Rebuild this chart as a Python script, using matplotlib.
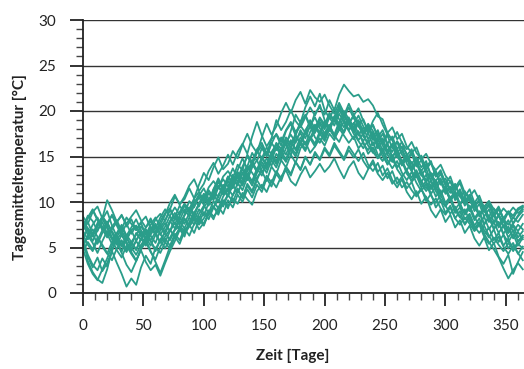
import numpy as np
import matplotlib
matplotlib.use("Agg")
import matplotlib.pyplot as plt
from matplotlib.ticker import MultipleLocator

# Day of year for each sample (every 4 days)
days = list(range(0, 365, 4))

s_a = [7.2, 8.5, 7.9, 6.8, 8.1, 9.0, 7.4, 6.2, 7.0, 8.3,
       7.6, 6.9, 7.8, 8.4, 7.1, 6.6, 7.9, 8.8, 9.3, 8.1,
       8.9, 9.8, 9.2, 10.4, 11.1, 10.2, 11.6, 12.3, 11.5, 12.8,
       13.4, 12.6, 14.1, 13.5, 15.2, 14.4, 15.8, 16.5, 15.3, 16.9,
       17.4, 16.2, 17.8, 18.6, 17.3, 18.9, 19.5, 18.2, 19.8, 20.4,
       19.6, 21.2, 20.1, 21.8, 22.9, 22.2, 21.6, 21.8, 21.0, 21.3,
       20.6, 19.4, 19.1, 17.6, 18.2, 16.9, 17.5, 16.1, 15.4, 16.0,
       14.6, 13.9, 14.5, 12.8, 13.3, 12.1, 11.4, 12.0, 10.6, 11.2,
       10.1, 9.4, 10.3, 8.9, 9.6, 8.4, 9.2, 8.1, 7.5, 8.3,
       7.8, 8.6]
s_b = [5.8, 4.2, 3.1, 2.5, 3.8, 2.9, 4.6, 3.3, 2.1, 0.7,
       1.6, 0.9, 2.8, 4.1, 3.2, 5.0, 4.4, 5.6, 4.8, 6.2,
       5.4, 6.8, 7.5, 6.6, 8.1, 7.4, 8.8, 9.5, 8.6, 10.1,
       9.3, 10.8, 11.5, 10.4, 12.0, 11.2, 12.7, 13.4, 12.3, 13.9,
       13.1, 14.6, 13.8, 15.2, 14.3, 15.9, 16.6, 15.4, 16.1, 17.0,
       16.2, 17.5, 16.8, 18.1, 17.3, 16.5, 17.2, 15.9, 16.6, 15.3,
       16.0, 14.8, 15.5, 14.1, 14.9, 13.6, 12.8, 13.5, 12.2, 12.9,
       11.6, 12.3, 10.9, 11.7, 10.2, 9.5, 10.3, 8.8, 9.4, 8.1,
       8.7, 7.4, 8.2, 6.9, 6.1, 7.0, 5.6, 6.4, 4.9, 5.5,
       4.3, 5.1]
s_c = [6.2, 3.5, 2.3, 1.5, 1.1, 2.6, 4.8, 5.9, 4.5, 6.1,
       5.2, 6.6, 5.8, 7.0, 6.3, 5.5, 6.9, 7.7, 6.8, 8.2,
       7.5, 8.6, 9.3, 8.4, 9.9, 10.6, 9.8, 11.2, 10.5, 11.9,
       11.1, 12.5, 11.8, 13.2, 12.4, 13.8, 14.6, 13.3, 14.0, 15.1,
       14.2, 15.6, 16.4, 15.1, 16.8, 17.6, 16.3, 17.0, 18.2, 17.4,
       18.7, 17.8, 19.2, 18.4, 17.6, 18.9, 17.9, 16.8, 17.5, 16.2,
       15.4, 16.3, 15.0, 14.2, 15.1, 13.8, 14.5, 13.1, 12.4, 13.2,
       12.0, 11.2, 11.9, 10.6, 11.3, 9.9, 10.6, 9.2, 9.9, 8.6,
       9.3, 8.0, 8.8, 7.5, 8.3, 7.1, 7.8, 6.5, 7.3, 6.0,
       6.7, 5.9]
s_d = [8.4, 7.6, 8.9, 9.5, 8.2, 10.2, 9.1, 7.8, 8.6, 7.3,
       8.1, 6.9, 7.7, 6.4, 7.5, 8.3, 7.2, 8.0, 9.1, 8.3,
       9.6, 8.8, 10.1, 9.4, 10.7, 11.5, 10.3, 11.0, 12.2, 11.4,
       12.8, 12.1, 13.5, 14.8, 13.6, 14.2, 15.6, 14.8, 16.0, 15.2,
       16.5, 15.8, 17.1, 16.3, 17.5, 18.4, 17.6, 19.0, 18.1, 19.3,
       18.5, 19.8, 18.9, 20.6, 19.4, 18.6, 19.5, 18.3, 17.5, 18.4,
       17.2, 17.9, 16.5, 17.3, 15.9, 16.6, 15.2, 14.5, 15.3, 13.9,
       14.6, 13.2, 12.5, 13.3, 11.9, 12.6, 11.3, 10.5, 11.4, 10.0,
       10.7, 9.5, 10.2, 9.0, 9.8, 8.6, 9.4, 8.2, 9.0, 8.5,
       9.3, 9.6]
s_e = [6.9, 7.8, 6.5, 5.4, 6.6, 7.4, 6.1, 5.3, 6.4, 5.5,
       4.6, 5.8, 6.7, 5.9, 7.2, 6.4, 5.6, 6.8, 7.9, 7.1,
       8.3, 7.6, 8.8, 8.0, 9.2, 8.5, 9.9, 10.8, 10.0, 11.3,
       10.6, 11.9, 12.7, 11.8, 13.1, 12.3, 13.7, 12.9, 14.3, 15.0,
       14.2, 15.5, 14.7, 16.0, 15.3, 16.7, 15.8, 17.2, 16.4, 17.8,
       17.0, 18.3, 17.4, 18.8, 19.6, 18.5, 17.7, 18.6, 17.2, 16.5,
       17.3, 15.9, 16.7, 15.2, 14.4, 15.3, 14.0, 14.8, 13.4, 12.7,
       13.5, 12.1, 11.4, 12.3, 10.8, 11.5, 10.1, 10.9, 9.5, 8.8,
       9.6, 8.3, 7.5, 8.4, 7.0, 7.8, 6.6, 7.4, 6.1, 6.9,
       5.7, 6.3]
s_f = [5.1, 6.3, 5.5, 4.4, 5.7, 6.8, 5.9, 4.7, 3.9, 5.2,
       4.3, 3.5, 4.8, 5.6, 4.5, 3.7, 5.1, 6.0, 5.2, 6.5,
       5.8, 7.1, 6.3, 7.6, 8.4, 7.5, 8.9, 8.1, 9.5, 8.7,
       10.2, 9.4, 10.8, 10.0, 11.4, 10.5, 11.9, 11.1, 12.6, 11.7,
       13.1, 12.3, 13.8, 12.9, 14.4, 13.6, 15.0, 14.1, 15.5, 14.7,
       16.0, 15.2, 16.5, 15.6, 14.8, 16.1, 15.3, 14.5, 15.4, 14.1,
       13.4, 14.3, 12.9, 13.7, 12.4, 11.6, 12.5, 11.1, 10.3, 11.2,
       9.8, 10.6, 9.1, 8.3, 9.2, 7.8, 8.6, 7.2, 8.0, 6.6,
       7.4, 6.0, 5.2, 6.1, 4.7, 5.5, 4.0, 3.2, 4.2, 2.1,
       3.4, 4.5]
s_g = [7.6, 6.4, 7.5, 8.3, 7.0, 6.1, 7.3, 8.0, 6.8, 5.9,
       6.9, 5.7, 4.9, 5.9, 4.6, 3.4, 2.2, 3.6, 5.1, 6.3,
       7.0, 6.2, 7.8, 8.9, 8.1, 9.4, 10.2, 9.3, 10.8, 11.6,
       10.7, 12.1, 13.0, 12.1, 13.5, 14.4, 13.5, 15.0, 14.1, 15.5,
       16.3, 15.4, 16.8, 15.9, 17.3, 16.5, 17.9, 18.7, 17.8, 19.1,
       18.3, 19.6, 18.8, 20.1, 19.3, 20.4, 19.2, 18.5, 19.1, 17.8,
       18.5, 17.1, 17.9, 16.4, 17.2, 15.8, 16.6, 15.1, 15.8, 14.4,
       15.1, 13.6, 14.3, 12.8, 13.5, 12.0, 12.8, 11.3, 12.1, 10.6,
       11.4, 9.9, 10.7, 9.3, 10.1, 8.7, 9.5, 8.1, 8.9, 7.6,
       8.4, 9.0]
s_h = [4.5, 5.6, 4.8, 6.1, 5.3, 4.4, 3.6, 4.9, 5.8, 4.7,
       5.6, 4.8, 6.0, 5.2, 6.4, 7.3, 6.5, 5.6, 6.8, 7.7,
       6.9, 8.1, 7.3, 8.5, 7.7, 8.9, 8.1, 9.4, 10.3, 9.5,
       10.8, 10.0, 11.3, 10.5, 11.8, 11.0, 12.4, 11.5, 12.9, 12.1,
       13.4, 12.6, 13.9, 13.1, 14.4, 13.5, 14.9, 14.1, 15.3, 14.6,
       15.8, 15.0, 16.2, 15.4, 14.6, 15.7, 14.9, 15.8, 14.5, 13.7,
       14.6, 13.3, 14.0, 12.6, 13.4, 12.0, 12.8, 11.5, 12.2, 10.8,
       11.5, 10.1, 10.9, 9.4, 10.2, 8.8, 9.6, 8.2, 9.0, 7.5,
       8.3, 6.9, 7.7, 6.4, 7.2, 5.8, 6.6, 5.2, 6.0, 4.6,
       5.4, 4.9]
s_i = [7.9, 6.8, 5.7, 6.9, 7.8, 6.5, 5.4, 6.6, 7.5, 6.3,
       7.2, 8.1, 6.9, 5.8, 6.7, 7.6, 6.4, 7.3, 8.5, 9.4,
       8.6, 9.8, 9.0, 10.3, 9.5, 10.9, 10.0, 11.4, 12.3, 11.4,
       12.8, 11.9, 13.3, 12.5, 13.9, 15.4, 14.5, 15.9, 15.1, 16.5,
       15.7, 17.1, 16.2, 17.8, 19.6, 18.7, 20.4, 21.6, 20.5, 21.9,
       20.1, 19.2, 20.3, 19.1, 18.2, 19.3, 18.0, 18.8, 17.4, 18.2,
       16.8, 17.6, 16.2, 15.4, 16.3, 14.9, 15.7, 14.2, 13.4, 14.3,
       12.9, 13.7, 12.2, 11.4, 12.3, 10.9, 11.7, 10.2, 11.0, 9.6,
       10.4, 9.0, 9.8, 8.4, 9.2, 7.8, 8.6, 7.2, 8.0, 6.7,
       7.5, 7.0]
s_j = [5.5, 4.0, 2.8, 3.9, 2.4, 3.3, 4.6, 6.0, 5.1, 6.4,
       5.6, 4.7, 5.9, 6.8, 5.7, 4.6, 5.8, 4.9, 6.1, 7.0,
       7.9, 7.1, 8.3, 7.5, 8.7, 9.6, 8.8, 10.1, 9.3, 10.6,
       11.5, 10.7, 12.1, 11.3, 12.7, 11.8, 13.2, 14.1, 13.2, 14.6,
       13.8, 15.2, 14.4, 15.8, 15.0, 16.4, 15.6, 17.0, 16.1, 17.5,
       16.7, 18.0, 17.2, 18.6, 17.7, 19.0, 18.1, 17.3, 18.2, 16.9,
       17.7, 16.3, 15.5, 16.3, 14.9, 15.7, 14.3, 13.5, 14.4, 13.0,
       12.2, 13.0, 11.6, 12.4, 10.9, 11.7, 10.3, 11.1, 9.7, 10.5,
       9.0, 9.8, 8.4, 9.2, 7.8, 8.6, 7.2, 8.0, 6.6, 7.4,
       6.1, 6.8]
s_k = [7.0, 8.2, 9.1, 8.0, 6.9, 7.8, 6.6, 5.5, 4.4, 3.1,
       2.3, 3.5, 4.9, 6.2, 7.3, 6.5, 7.6, 6.7, 7.9, 8.8,
       8.0, 9.2, 8.4, 9.6, 10.5, 9.7, 11.0, 10.2, 11.6, 12.5,
       11.7, 13.0, 12.2, 13.6, 12.8, 14.2, 13.3, 14.7, 15.5, 14.6,
       16.0, 15.1, 16.6, 17.4, 16.5, 17.9, 17.0, 18.4, 17.6, 18.8,
       18.0, 19.3, 18.4, 19.7, 18.8, 17.9, 18.7, 17.5, 16.7, 17.6,
       16.2, 17.0, 15.6, 16.4, 15.0, 15.8, 14.4, 15.2, 13.8, 14.6,
       13.2, 12.4, 13.2, 11.8, 12.6, 11.2, 10.4, 11.2, 9.8, 10.6,
       9.2, 10.0, 8.6, 9.4, 8.0, 8.8, 7.4, 8.2, 6.8, 7.7,
       8.5, 9.4]
s_l = [6.0, 7.1, 6.2, 7.3, 8.4, 7.5, 8.6, 7.7, 6.6, 7.6,
       6.5, 7.4, 6.3, 7.2, 8.2, 7.1, 8.3, 9.2, 8.4, 7.6,
       8.5, 9.6, 8.8, 9.9, 10.8, 10.0, 11.3, 10.5, 11.8, 11.0,
       12.3, 11.5, 12.9, 12.1, 13.4, 14.2, 13.4, 14.8, 14.0, 15.3,
       14.5, 16.0, 15.2, 16.6, 15.8, 17.1, 16.3, 17.7, 18.5, 17.6,
       18.9, 18.1, 19.4, 18.6, 20.0, 19.1, 18.2, 19.0, 17.7, 18.5,
       17.1, 16.3, 17.0, 15.6, 16.4, 15.0, 14.2, 15.0, 13.6, 14.4,
       13.0, 12.2, 13.0, 11.6, 10.8, 11.6, 10.2, 11.0, 9.6, 8.8,
       9.6, 8.2, 9.0, 7.6, 8.4, 7.0, 7.8, 6.4, 5.6, 6.5,
       5.2, 6.1]
s_m = [6.8, 5.9, 6.4, 7.7, 8.2, 7.1, 6.0, 6.3, 5.2, 5.8,
       6.9, 7.4, 6.2, 5.5, 6.8, 8.1, 8.7, 7.9, 9.2, 10.6,
       9.8, 10.3, 11.5, 10.4, 11.9, 13.2, 12.4, 13.8, 14.9, 13.6,
       14.2, 15.6, 14.8, 16.3, 17.5, 16.2, 15.4, 17.1, 18.6, 17.4,
       18.3, 19.8, 20.9, 19.8, 21.2, 22.1, 20.8, 22.3, 21.5, 21.0,
       21.8, 20.6, 19.7, 20.9, 19.8, 18.6, 19.5, 20.3, 18.9, 17.8,
       18.4, 17.2, 16.5, 17.6, 16.8, 15.4, 16.1, 15.3, 14.2, 14.9,
       13.8, 14.5, 12.9, 13.4, 12.1, 11.5, 12.3, 10.8, 11.2, 10.1,
       10.8, 9.6, 10.2, 9.1, 8.4, 9.3, 8.6, 7.8, 8.9, 8.2,
       9.1, 9.5]
s_n = [5.4, 6.1, 7.0, 6.2, 5.1, 4.3, 5.6, 6.5, 7.3, 6.1,
       5.0, 4.2, 5.3, 6.0, 5.7, 4.8, 5.9, 6.6, 5.8, 6.9,
       7.4, 6.8, 7.6, 8.3, 7.5, 8.2, 9.1, 8.4, 9.0, 10.2,
       9.6, 10.4, 9.8, 11.0, 10.3, 9.7, 11.2, 11.9, 11.1, 12.4,
       11.6, 12.8, 13.5, 12.3, 11.8, 13.0, 13.9, 12.7, 13.4, 14.2,
       13.3, 13.9, 14.8, 13.6, 12.6, 13.8, 14.5, 13.2, 12.5, 13.6,
       14.3, 13.1, 12.4, 13.2, 12.0, 12.7, 11.6, 12.2, 11.3, 10.6,
       11.4, 10.5, 9.7, 10.4, 9.3, 8.6, 9.4, 8.2, 7.5, 8.3,
       7.6, 6.8, 7.5, 6.2, 5.4, 6.1, 5.3, 4.6, 5.5, 4.8,
       5.6, 6.3]
s_o = [7.4, 8.3, 9.2, 8.1, 7.3, 6.4, 7.0, 7.8, 8.5, 7.6,
       8.4, 9.1, 8.0, 7.2, 7.9, 6.8, 7.5, 8.6, 9.9, 10.8,
       9.7, 10.6, 11.8, 12.5, 11.2, 12.0, 13.4, 14.3, 13.1, 14.0,
       15.2, 14.1, 15.5, 16.4, 15.3, 17.2, 18.8, 17.3, 16.1, 17.0,
       19.0, 17.9, 18.8, 20.1, 18.9, 18.2, 19.3, 20.4, 19.5, 20.7,
       19.0, 18.2, 19.4, 20.3, 19.1, 17.9, 18.6, 19.5, 18.3, 17.6,
       18.9, 19.8, 18.5, 17.4, 16.8, 17.7, 16.5, 15.8, 16.6, 15.4,
       14.7, 15.3, 14.2, 13.5, 14.1, 12.9, 12.2, 11.6, 12.4, 11.0,
       10.6, 11.3, 10.2, 9.5, 10.1, 9.2, 8.5, 9.3, 8.7, 9.4,
       8.8, 9.2]
s_p = [6.4, 5.3, 4.6, 5.8, 6.9, 7.7, 8.5, 7.4, 6.3, 5.6,
       4.8, 5.7, 6.8, 6.1, 5.2, 6.4, 7.2, 6.5, 7.8, 8.4,
       7.6, 8.5, 9.4, 8.7, 9.8, 10.5, 9.6, 10.9, 11.7, 10.8,
       11.5, 12.6, 11.9, 13.1, 14.0, 13.2, 12.4, 13.7, 14.8, 14.0,
       15.3, 14.6, 15.9, 16.8, 15.7, 16.5, 17.6, 16.9, 17.7, 18.6,
       17.5, 18.2, 17.1, 17.9, 18.8, 17.8, 16.9, 17.8, 16.4, 15.7,
       16.6, 15.2, 14.5, 15.6, 14.7, 13.8, 14.6, 13.4, 12.7, 13.5,
       12.3, 11.5, 12.4, 11.2, 10.3, 9.6, 10.4, 9.1, 8.3, 9.2,
       7.9, 7.1, 7.8, 6.5, 5.6, 4.8, 3.9, 2.7, 1.6, 2.5,
       3.3, 2.6]
s_q = [4.8, 3.2, 2.1, 1.4, 2.6, 3.8, 5.2, 6.3, 5.4, 4.5,
       5.6, 6.4, 7.3, 6.6, 5.8, 6.7, 5.5, 6.2, 7.0, 6.1,
       7.2, 6.5, 7.3, 8.1, 7.0, 7.7, 8.6, 9.5, 8.8, 9.9,
       10.8, 11.9, 11.0, 12.2, 13.0, 12.1, 13.5, 14.4, 13.6, 15.1,
       16.0, 15.2, 14.5, 16.1, 17.2, 16.4, 17.5, 18.3, 17.1, 16.5,
       17.6, 18.5, 17.3, 16.6, 17.8, 18.7, 17.5, 16.7, 15.9, 16.8,
       15.5, 14.8, 15.9, 14.6, 13.7, 14.5, 13.2, 12.4, 13.3, 12.1,
       11.2, 12.0, 10.7, 9.9, 10.8, 9.6, 8.7, 9.5, 8.4, 7.6,
       8.5, 7.3, 6.6, 7.4, 6.3, 5.4, 6.2, 5.1, 4.3, 5.2,
       4.4, 3.6]
s_r = [8.0, 7.1, 6.3, 7.5, 8.4, 7.7, 6.8, 5.9, 6.6, 5.4,
       4.5, 3.6, 4.7, 3.4, 2.5, 3.1, 1.9, 3.3, 4.6, 5.7,
       6.9, 8.2, 7.4, 8.8, 9.7, 10.9, 9.8, 11.4, 12.6, 11.5,
       12.4, 13.7, 12.6, 13.9, 15.0, 14.1, 15.4, 16.2, 15.0, 16.4,
       17.5, 16.6, 17.9, 18.8, 17.7, 18.5, 19.6, 18.4, 19.3, 18.1,
       17.2, 18.3, 19.2, 18.0, 19.5, 20.8, 19.6, 18.7, 17.5, 18.6,
       17.8, 16.6, 17.5, 16.3, 15.5, 16.7, 15.9, 14.6, 15.5, 14.3,
       13.4, 14.2, 13.0, 12.3, 13.1, 11.8, 11.0, 11.9, 10.6, 9.8,
       10.5, 9.4, 8.6, 9.5, 8.3, 7.6, 8.5, 7.4, 6.6, 7.5,
       6.8, 7.6]

series = [s_a, s_b, s_c, s_d, s_e, s_f, s_g, s_h, s_i,
          s_j, s_k, s_l, s_m, s_n, s_o, s_p, s_q, s_r]

LINE_COLOR = "#2a9d8a"
FONT = "Lato"
TEXT_COLOR = "#222222"

fig = plt.figure(figsize=(5.24, 3.69), dpi=100)
ax = fig.add_axes([83 / 524, 76 / 369, 441 / 524, 273 / 369])

for s in series:
    ax.plot(days, s, color=LINE_COLOR, lw=1.3, solid_joinstyle="round")

ax.set_xlim(0, 365)
ax.set_ylim(0, 30)
ax.xaxis.set_major_locator(MultipleLocator(50))
ax.xaxis.set_minor_locator(MultipleLocator(10))
ax.yaxis.set_major_locator(MultipleLocator(5))
ax.yaxis.set_minor_locator(MultipleLocator(1))

for sp in ["top", "right"]:
    ax.spines[sp].set_visible(False)
for sp in ["left", "bottom"]:
    ax.spines[sp].set_color(TEXT_COLOR)
    ax.spines[sp].set_linewidth(1.3)

ax.grid(axis="y", which="major", color="#333333", lw=1.0)
ax.set_axisbelow(True)

ax.tick_params(axis="both", which="major", direction="out", length=9.5, width=1.3,
               color=TEXT_COLOR, labelsize=11, labelcolor=TEXT_COLOR)
ax.tick_params(axis="both", which="minor", direction="out", length=5, width=1.0,
               color="#444444")
ax.tick_params(axis="x", which="major", pad=9)
ax.tick_params(axis="y", which="major", pad=10)

for lab in ax.get_xticklabels() + ax.get_yticklabels():
    lab.set_fontfamily(FONT)

ax.set_xlabel("Zeit [Tage]", fontfamily=FONT, fontweight="bold", fontsize=11,
              color=TEXT_COLOR)
ax.xaxis.set_label_coords(0.475, -0.205)
ax.set_ylabel("Tagesmitteltemperatur [°C]", fontfamily=FONT, fontweight="bold",
              fontsize=11, color=TEXT_COLOR)
ax.yaxis.set_label_coords(-0.128, 0.46)

fig.savefig("out.png", dpi=100)
